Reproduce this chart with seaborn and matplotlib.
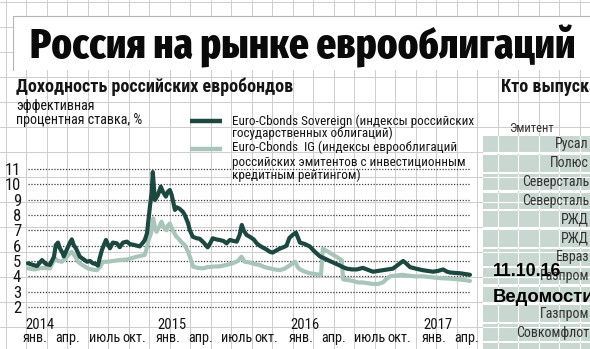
import matplotlib
matplotlib.use("Agg")
import matplotlib.pyplot as plt
from matplotlib import font_manager
from matplotlib.patches import Rectangle
from matplotlib.transforms import ScaledTranslation
import numpy as np
import pandas as pd
import seaborn as sns

# ---------------- data ----------------
sov_dates = [
    "2014-01-06", "2014-01-20", "2014-01-31", "2014-02-14", "2014-02-25", "2014-03-08",
    "2014-03-19", "2014-03-24", "2014-03-30", "2014-04-04", "2014-04-12", "2014-04-15",
    "2014-04-23", "2014-05-02", "2014-05-07", "2014-05-13", "2014-05-18", "2014-05-29",
    "2014-06-09", "2014-06-18", "2014-06-26", "2014-07-04", "2014-07-12", "2014-07-18",
    "2014-07-23", "2014-07-29", "2014-08-09", "2014-08-14", "2014-08-20", "2014-08-28",
    "2014-09-08", "2014-09-16", "2014-09-25", "2014-10-06", "2014-10-14", "2014-10-25",
    "2014-11-10", "2014-11-19", "2014-11-24", "2014-11-30", "2014-12-02", "2014-12-08",
    "2014-12-13", "2014-12-16", "2014-12-19", "2014-12-22", "2014-12-30", "2015-01-07",
    "2015-01-13", "2015-01-21", "2015-01-26", "2015-02-01", "2015-02-06", "2015-02-15",
    "2015-02-20", "2015-02-28", "2015-03-09", "2015-03-14", "2015-03-23", "2015-03-28",
    "2015-04-05", "2015-04-16", "2015-04-24", "2015-05-05", "2015-05-16", "2015-05-24",
    "2015-05-30", "2015-06-10", "2015-06-18", "2015-06-29", "2015-07-07", "2015-07-16",
    "2015-07-27", "2015-08-04", "2015-08-12", "2015-08-18", "2015-08-23", "2015-08-31",
    "2015-09-09", "2015-09-20", "2015-09-28", "2015-10-06", "2015-10-14", "2015-10-25",
    "2015-11-03", "2015-11-11", "2015-11-22", "2015-11-30", "2015-12-11", "2015-12-19",
    "2015-12-27", "2016-01-05", "2016-01-14", "2016-01-25", "2016-02-08", "2016-02-21",
    "2016-03-06", "2016-03-20", "2016-04-03", "2016-04-16", "2016-04-30", "2016-05-14",
    "2016-05-22", "2016-06-02", "2016-06-16", "2016-06-30", "2016-07-16", "2016-07-27",
    "2016-08-13", "2016-08-27", "2016-09-09", "2016-09-23", "2016-10-07", "2016-10-21",
    "2016-11-04", "2016-11-12", "2016-11-23", "2016-12-09", "2016-12-28", "2017-01-11",
    "2017-01-25", "2017-02-08", "2017-02-22", "2017-03-05", "2017-03-13", "2017-03-27",
    "2017-04-09", "2017-04-23", "2017-05-07",
]
sov_values = [
    4.85, 4.75, 4.67, 5.06, 4.80, 4.74,
    5.28, 6.04, 6.20, 5.84, 5.50, 5.30,
    5.72, 6.20, 6.41, 6.00, 5.85, 5.28,
    5.10, 4.95, 5.00, 4.85, 4.80, 4.70,
    5.20, 5.72, 6.37, 6.10, 5.83, 6.20,
    6.15, 5.90, 6.20, 6.26, 6.10, 6.05,
    5.95, 6.20, 6.37, 6.80, 7.24, 8.54,
    9.50, 10.80, 9.80, 8.98, 9.30, 9.85,
    9.50, 9.20, 9.50, 9.63, 9.30, 8.33,
    8.50, 8.40, 8.20, 8.00, 7.47, 7.00,
    6.58, 6.48, 6.45, 6.20, 5.89, 6.20,
    6.48, 6.40, 6.37, 6.30, 6.15, 6.37,
    6.30, 6.26, 6.70, 7.35, 7.00, 6.70,
    6.58, 6.40, 6.15, 6.00, 5.89, 5.75,
    5.60, 5.55, 5.70, 5.80, 5.90, 6.00,
    6.50, 6.70, 6.85, 6.20, 6.10, 5.95,
    5.60, 5.30, 5.15, 5.00, 4.85, 4.70,
    4.60, 4.50, 4.45, 4.45, 4.55, 4.45,
    4.30, 4.35, 4.40, 4.45, 4.50, 4.75,
    5.00, 4.85, 4.60, 4.50, 4.40, 4.35,
    4.30, 4.35, 4.45, 4.30, 4.25, 4.22,
    4.20, 4.15, 4.10,
]
ig_dates = [
    "2014-01-06", "2014-01-25", "2014-02-14", "2014-03-08", "2014-03-16", "2014-03-22",
    "2014-03-30", "2014-04-10", "2014-04-21", "2014-05-02", "2014-05-07", "2014-05-16",
    "2014-05-24", "2014-06-04", "2014-06-15", "2014-06-20", "2014-07-01", "2014-07-15",
    "2014-07-23", "2014-08-01", "2014-08-14", "2014-08-28", "2014-09-16", "2014-10-06",
    "2014-10-22", "2014-11-02", "2014-11-16", "2014-11-24", "2014-11-30", "2014-12-03",
    "2014-12-11", "2014-12-17", "2014-12-22", "2014-12-26", "2015-01-02", "2015-01-09",
    "2015-01-15", "2015-01-23", "2015-01-26", "2015-02-01", "2015-02-09", "2015-02-19",
    "2015-02-23", "2015-03-06", "2015-03-14", "2015-03-23", "2015-03-28", "2015-04-06",
    "2015-04-19", "2015-05-03", "2015-05-16", "2015-05-30", "2015-06-18", "2015-07-06",
    "2015-07-24", "2015-08-07", "2015-08-17", "2015-08-26", "2015-09-09", "2015-09-22",
    "2015-10-06", "2015-10-20", "2015-11-03", "2015-11-16", "2015-11-30", "2015-12-14",
    "2015-12-27", "2016-01-11", "2016-01-19", "2016-01-25", "2016-02-08", "2016-02-21",
    "2016-03-06", "2016-03-23", "2016-03-28", "2016-04-08", "2016-04-22", "2016-05-06",
    "2016-05-19", "2016-05-23", "2016-06-05", "2016-06-19", "2016-07-03", "2016-07-16",
    "2016-07-30", "2016-08-13", "2016-08-27", "2016-09-09", "2016-09-18", "2016-09-29",
    "2016-10-15", "2016-11-01", "2016-11-17", "2016-12-06", "2016-12-28", "2017-01-17",
    "2017-02-05", "2017-02-22", "2017-03-13", "2017-04-04", "2017-04-23", "2017-05-07",
]
ig_values = [
    4.52, 4.45, 4.55, 4.52, 4.90, 5.17,
    5.00, 4.95, 5.20, 5.50, 5.60, 5.30,
    4.95, 4.75, 4.60, 4.52, 4.45, 4.40,
    4.60, 4.95, 4.95, 5.00, 5.06, 5.10,
    5.20, 5.28, 5.35, 5.40, 5.90, 6.26,
    6.80, 7.78, 7.20, 6.90, 7.20, 7.56,
    7.20, 7.00, 7.30, 7.45, 7.00, 6.58,
    6.50, 6.20, 6.04, 5.60, 5.28, 4.63,
    4.55, 4.52, 4.60, 4.63, 4.65, 4.74,
    4.85, 5.00, 5.28, 4.95, 4.90, 4.80,
    4.74, 4.60, 4.52, 4.45, 4.40, 4.50,
    4.70, 4.95, 4.60, 4.45, 4.30, 4.20,
    4.15, 4.10, 5.80, 5.65, 5.45, 5.25,
    5.05, 3.80, 3.75, 3.70, 3.60, 3.60,
    3.55, 3.50, 3.50, 3.60, 3.80, 4.00,
    4.05, 4.10, 4.05, 4.00, 4.00, 3.95,
    3.90, 3.87, 3.85, 3.80, 3.75, 3.70,
]
y_ticks = [2, 3, 4, 5, 6, 7, 8, 9, 10, 11]
year_labels = ["2014", "2015", "2016", "2017"]
month_labels = ["янв.", "апр.", "июль", "окт."]
title_text = "Россия на рынке еврооблигаций"
subtitle_text = "Доходность российских евробондов"
unit_lines = ["эффективная", "процентная ставка, %"]
legend_sov = ["Euro-Cbonds Sovereign (индексы российских", "государственных облигаций)"]
legend_ig = ["Euro-Cbonds  IG (индексы еврооблигаций",
             "российских эмитентов с инвестиционным", "кредитным рейтингом)"]
table_title = "Кто выпускает"
table_header = "Эмитент"
issuers = ["Русал", "Полюс", "Северсталь", "Северсталь", "РЖД", "РЖД",
           "Евраз", "Газпром", "", "Газпром", "Совкомфлот", ""]
stamp_lines = ["11.10.16", "Ведомости"]

# ---------------- fonts & colours ----------------
sns.set_style("white")
avail = {f.name for f in font_manager.fontManager.ttflist}


def pick(prefs):
    for p in prefs:
        if p in avail:
            return [p, "DejaVu Sans"]
    return ["DejaVu Sans"]


BODY = pick(["Roboto Condensed", "Fira Sans Condensed", "PT Sans Narrow"])
TITLE = pick(["Fira Sans Extra Condensed", "Roboto Condensed"])
BOLDF = ["Liberation Sans", "DejaVu Sans"]
plt.rcParams["font.family"] = BODY

DARK = "#1c4840"
LIGHT = "#a9c5ba"
BAND = "#c9d7d1"
PAPER = "#cdcdcd"
INK = "#151515"

W, H = 590, 349
fig = plt.figure(figsize=(W / 100, H / 100), dpi=100)
fig.patch.set_facecolor("white")
renderer = fig.canvas.get_renderer()

# background (graph paper, title panel, table bands, legend swatches) in pixels
bg = fig.add_axes([0, 0, 1, 1], zorder=0)
bg.set_xlim(0, W)
bg.set_ylim(H, 0)
bg.axis("off")

grid_x = np.arange(5.5, W + 1, 20.5)
grid_y = np.arange(2, H + 1, 25.0)
for gx in grid_x:
    bg.plot([gx, gx], [0, H], color=PAPER, lw=0.7, zorder=1)
for gy in grid_y:
    bg.plot([0, W], [gy, gy], color=PAPER, lw=0.7, zorder=1)

bg.add_patch(Rectangle((13, 16), 600, 54, facecolor="white", edgecolor="none", zorder=2))
bg.plot([13, W], [16, 16], color="#b5b5b5", lw=0.8, zorder=3)
bg.plot([13, 13], [16, 70], color="#b5b5b5", lw=0.8, zorder=3)

row_pitch = 18.8
row_c0 = 144.5
for i, name in enumerate(issuers):
    c = row_c0 + i * row_pitch
    bg.add_patch(Rectangle((483, c - 8.3), 120, 16.6, facecolor=BAND,
                           edgecolor="none", zorder=2))
    for gx in grid_x[grid_x > 484]:
        bg.plot([gx, gx], [c - 8.3, c + 8.3], color="white", lw=0.8, zorder=2.5)
    for gy in grid_y[(grid_y > c - 8.3) & (grid_y < c + 8.3)]:
        bg.plot([483, W], [gy, gy], color="white", lw=0.8, zorder=2.5)

bg.plot([190, 222], [120.7, 120.7], color=DARK, lw=3.2, solid_capstyle="butt", zorder=4)
bg.plot([190, 222], [149, 149], color=LIGHT, lw=3.2, solid_capstyle="butt", zorder=4)


def put(x, y, s, size, width=None, **kw):
    t = fig.text(x / W, 1 - y / H, s, fontsize=size, **kw)
    if width:
        w = t.get_window_extent(renderer).width
        t.set_fontsize(size * width / w)
    return t


# ---------------- main chart ----------------
ax = fig.add_axes([26 / W, 1 - 315 / H, 454 / W, 155 / H], zorder=2)
ax.patch.set_alpha(0)

df = pd.concat([
    pd.DataFrame({"date": pd.to_datetime(ig_dates), "value": ig_values, "series": "IG"}),
    pd.DataFrame({"date": pd.to_datetime(sov_dates), "value": sov_values, "series": "Sovereign"}),
], ignore_index=True)

for v in y_ticks:
    ax.axhline(v, xmin=2 / 454, xmax=444 / 454, color="#3c3c3c", lw=0.9,
               ls=(0, (1, 1.3)), zorder=1)

sns.lineplot(data=df, x="date", y="value", hue="series", hue_order=["IG", "Sovereign"],
             palette={"IG": LIGHT, "Sovereign": DARK}, linewidth=3.0, estimator=None,
             legend=False, ax=ax, zorder=3)

start = pd.Timestamp("2014-01-01")
ax.set_xlim(start, start + pd.Timedelta(days=454 * 365.25 / 132.7))
ax.set_ylim(1.476, 11.587)
ax.set_xlabel("")
ax.set_ylabel("")
for s in ax.spines.values():
    s.set_visible(False)

ax.set_yticks(y_ticks)
ax.set_yticklabels([str(v) for v in y_ticks])
ax.tick_params(axis="y", length=0, pad=3.5, labelsize=12, labelcolor=INK)

year_pos = [pd.Timestamp(y + "-01-01") for y in year_labels]
ax.set_xticks(year_pos)
ax.set_xticklabels(year_labels)
month_pos = pd.date_range("2014-01-01", "2017-04-01", freq="QS")
ax.set_xticks(month_pos, minor=True)
ax.set_xticklabels([month_labels[(d.month - 1) // 3] for d in month_pos], minor=True)
ax.xaxis.remove_overlapping_locs = False
ax.tick_params(axis="x", which="major", length=0, pad=2.0, labelsize=10.5, labelcolor=INK)
ax.tick_params(axis="x", which="minor", length=0, pad=11.5, labelsize=10.3, labelcolor=INK)
for lab in ax.get_xticklabels():
    lab.set_ha("left")
    lab.set_transform(lab.get_transform() + ScaledTranslation(-1 / 100, 0, fig.dpi_scale_trans))
for lab in ax.get_xticklabels(minor=True):
    lab.set_ha("left")
    lab.set_transform(lab.get_transform() + ScaledTranslation(-3 / 100, 0, fig.dpi_scale_trans))

# ---------------- texts ----------------
put(30, 58.5, title_text, 30, width=546, fontweight="heavy", va="baseline",
    color="#0a0a0a", family=TITLE)
t = put(16, 92.5, subtitle_text, 11, width=277, fontweight="bold", va="baseline", color=INK)
put(501, 92.5, table_title, t.get_fontsize(), fontweight="bold", va="baseline", color=INK)
t = put(16, 110.5, unit_lines[1], 8, width=126, va="baseline", color=INK)
usz = t.get_fontsize()
t.set_position((16 / W, 1 - 123.5 / H))
put(16, 110.5, unit_lines[0], usz, va="baseline", color=INK)

t = put(232, 124.5, legend_sov[0], 8.5, width=240, va="baseline", color=INK)
lsz = t.get_fontsize()
put(232, 136.5, legend_sov[1], lsz, va="baseline", color=INK)
put(232, 151.5, legend_ig[0], lsz, va="baseline", color=INK)
put(232, 165.5, legend_ig[1], lsz, va="baseline", color=INK)
put(232, 178.5, legend_ig[2], lsz, va="baseline", color=INK)

put(531, 128.5, table_header, 9, ha="center", va="center", color="#333333")
for i, name in enumerate(issuers):
    if name:
        put(589, row_c0 + i * row_pitch, name, 10, ha="right", va="center",
            color="#333333")

t = put(493, 271.5, stamp_lines[0], 12, width=68, fontweight="bold", va="center",
        color="black", family=BOLDF)
put(493, 297, stamp_lines[1], t.get_fontsize() * 1.04, fontweight="bold", va="center",
    color="black", family=BOLDF)

fig.savefig("out.png", dpi=100)
